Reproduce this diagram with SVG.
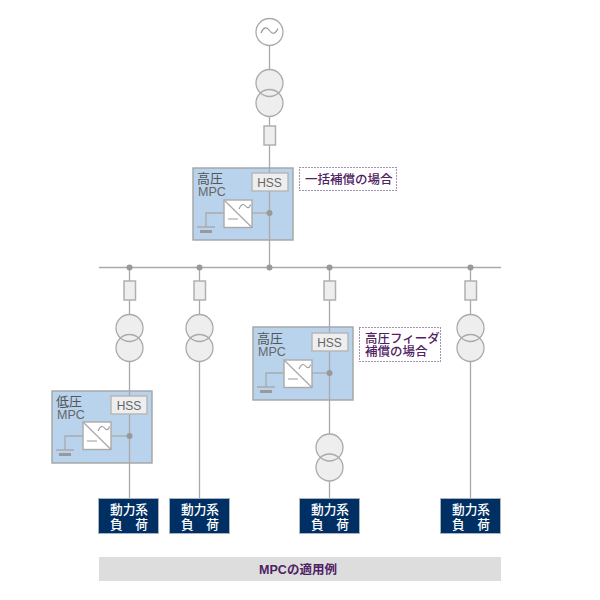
<svg xmlns="http://www.w3.org/2000/svg" xmlns:xlink="http://www.w3.org/1999/xlink" width="600" height="600" viewBox="0 0 600 600">
<style>
text{font-family:"Liberation Sans","Noto Sans CJK JP",sans-serif}
.w{fill:none;stroke:#aaa;stroke-width:1.300}
.d{fill:#999}
.c{fill:#eee;stroke:none}
.o{fill:none;stroke:#aaa;stroke-width:1.300}
.f{fill:#eee;stroke:#b0b0b0;stroke-width:1.500}
.m{fill:#bad3ed;stroke:#a3a3a3;stroke-width:1.400}
.h{fill:#eee;stroke:#b5b5b5;stroke-width:1.400}
.hs{fill:#666;font-size:12px;text-anchor:middle}
.t{fill:#666;font-size:12.500px}
.k{fill:#555;font-size:13px}
.n{fill:#4f2263;font-size:12.500px;font-weight:500}
.l{fill:#003063;stroke:#a9b3bd;stroke-width:1}
.lt{fill:#fff;font-size:12.700px;font-weight:500;text-anchor:middle}
.dot{fill:none;stroke:#4f2263;stroke-width:1;stroke-dasharray:1 2}
</style>
<defs>
<g id="tr"><circle class="c" cx="0" cy="0" r="13.500"/><circle class="c" cx="0" cy="20" r="13.500"/><circle class="o" cx="0" cy="0" r="13.500"/><circle class="o" cx="0" cy="20" r="13.500"/></g>
<g id="fuse"><rect class="f" x="-5.500" y="0" width="11.500" height="19"/></g>
<g id="conv">
<rect x="0" y="0" width="28" height="27.500" fill="#fff" stroke="#aaa" stroke-width="1.400"/>
<path class="w" d="M0 0L28 27.500"/>
<path d="M15 9q3-7 6.500-3t5-1.500" fill="none" stroke="#999" stroke-width="1.100"/>
<path d="M4 19H14" fill="none" stroke="#999" stroke-width="1"/>
</g>
<g id="gnd">
<path class="w" d="M18 13H0V27M-9 27H9"/>
<rect class="d" x="-6" y="30" width="12" height="3"/>
</g>
</defs>

<g id="connectors">
<path class="w" d="M99 267.500H501"/>
<path class="w" d="M269.500 45V267.500"/>
<path class="w" d="M129.500 267.500V498"/>
<path class="w" d="M199.500 267.500V498"/>
<path class="w" d="M329.500 267.500V498"/>
<path class="w" d="M470.500 267.500V498"/>
<circle class="d" cx="129.500" cy="267.500" r="3"/>
<circle class="d" cx="199.500" cy="267.500" r="3"/>
<circle class="d" cx="269.500" cy="267.500" r="3"/>
<circle class="d" cx="329.500" cy="267.500" r="3"/>
<circle class="d" cx="470.500" cy="267.500" r="3"/>
</g>

<g id="source">
<circle cx="269.500" cy="32" r="13.500" fill="#fff" stroke="#aaa" stroke-width="1.300"/>
<path d="M261 33q4-9 8.500-2.500t8.500-2" fill="none" stroke="#999" stroke-width="1.200"/>
</g>
<use id="tr-main" href="#tr" x="269.500" y="83"/>
<use id="fuse-main" href="#fuse" x="269.500" y="126"/>

<g id="mpc-main">
<rect class="m" x="193" y="168" width="100" height="72"/>
<path class="w" d="M269.500 168V240"/>
<rect class="h" x="252" y="173" width="36" height="18"/>
<text x="269.500" y="187" class="hs">HSS</text>
<text x="197" y="183" class="k">高圧</text>
<text x="198" y="196" class="t">MPC</text>
<path class="w" d="M252 213H269.500"/>
<circle class="d" cx="269.500" cy="213" r="3"/>
<use href="#gnd" x="206" y="200"/>
<use href="#conv" x="224" y="200"/>
</g>

<g id="note-main">
<rect class="dot" x="299.500" y="167.500" width="97" height="23"/>
<text x="305" y="184" class="n">一括補償の場合</text>
</g>

<use id="fuse-1" href="#fuse" x="129.500" y="281"/>
<use id="fuse-2" href="#fuse" x="199.500" y="281"/>
<use id="fuse-3" href="#fuse" x="329.500" y="281"/>
<use id="fuse-4" href="#fuse" x="470.500" y="281"/>
<use id="tr-1" href="#tr" x="129.500" y="328"/>
<use id="tr-2" href="#tr" x="199.500" y="328"/>
<use id="tr-4" href="#tr" x="470.500" y="328"/>
<use id="tr-3" href="#tr" x="329.500" y="447.500"/>

<g id="mpc-feeder">
<rect class="m" x="253" y="327" width="100" height="73"/>
<path class="w" d="M329.500 327V400"/>
<rect class="h" x="312" y="333" width="36" height="18"/>
<text x="329.500" y="347" class="hs">HSS</text>
<text x="257" y="343" class="k">高圧</text>
<text x="258" y="356" class="t">MPC</text>
<path class="w" d="M312 373H329.500"/>
<circle class="d" cx="329.500" cy="373" r="3"/>
<use href="#gnd" x="266" y="360"/>
<use href="#conv" x="284" y="360"/>
</g>

<g id="note-feeder">
<rect class="dot" x="359.500" y="327.500" width="81" height="34"/>
<text x="365" y="343" class="n">高圧フィーダ</text>
<text x="365" y="356" class="n">補償の場合</text>
</g>

<g id="mpc-low">
<rect class="m" x="52" y="391" width="100" height="72"/>
<path class="w" d="M129.500 391V463"/>
<rect class="h" x="111" y="396" width="36" height="18"/>
<text x="129" y="410" class="hs">HSS</text>
<text x="56" y="406" class="k">低圧</text>
<text x="57" y="419" class="t">MPC</text>
<path class="w" d="M111 436H129.500"/>
<circle class="d" cx="129.500" cy="436" r="3"/>
<use href="#gnd" x="65" y="423"/>
<use href="#conv" x="83" y="422"/>
</g>

<g id="load-1"><rect class="l" x="98.500" y="498.500" width="60" height="35"/><text class="lt" x="129" y="514">動力系</text><text class="lt" x="129" y="529">負　荷</text></g>
<g id="load-2"><rect class="l" x="169.500" y="498.500" width="60" height="35"/><text class="lt" x="200" y="514">動力系</text><text class="lt" x="200" y="529">負　荷</text></g>
<g id="load-3"><rect class="l" x="299.500" y="498.500" width="60" height="35"/><text class="lt" x="330" y="514">動力系</text><text class="lt" x="330" y="529">負　荷</text></g>
<g id="load-4"><rect class="l" x="440.500" y="498.500" width="60" height="35"/><text class="lt" x="471" y="514">動力系</text><text class="lt" x="471" y="529">負　荷</text></g>

<g id="caption">
<rect x="99" y="557" width="402" height="24" fill="#ddd"/>
<text x="298" y="574" text-anchor="middle" font-size="12.500" font-weight="700" fill="#4f2263">MPCの適用例</text>
</g>
</svg>
